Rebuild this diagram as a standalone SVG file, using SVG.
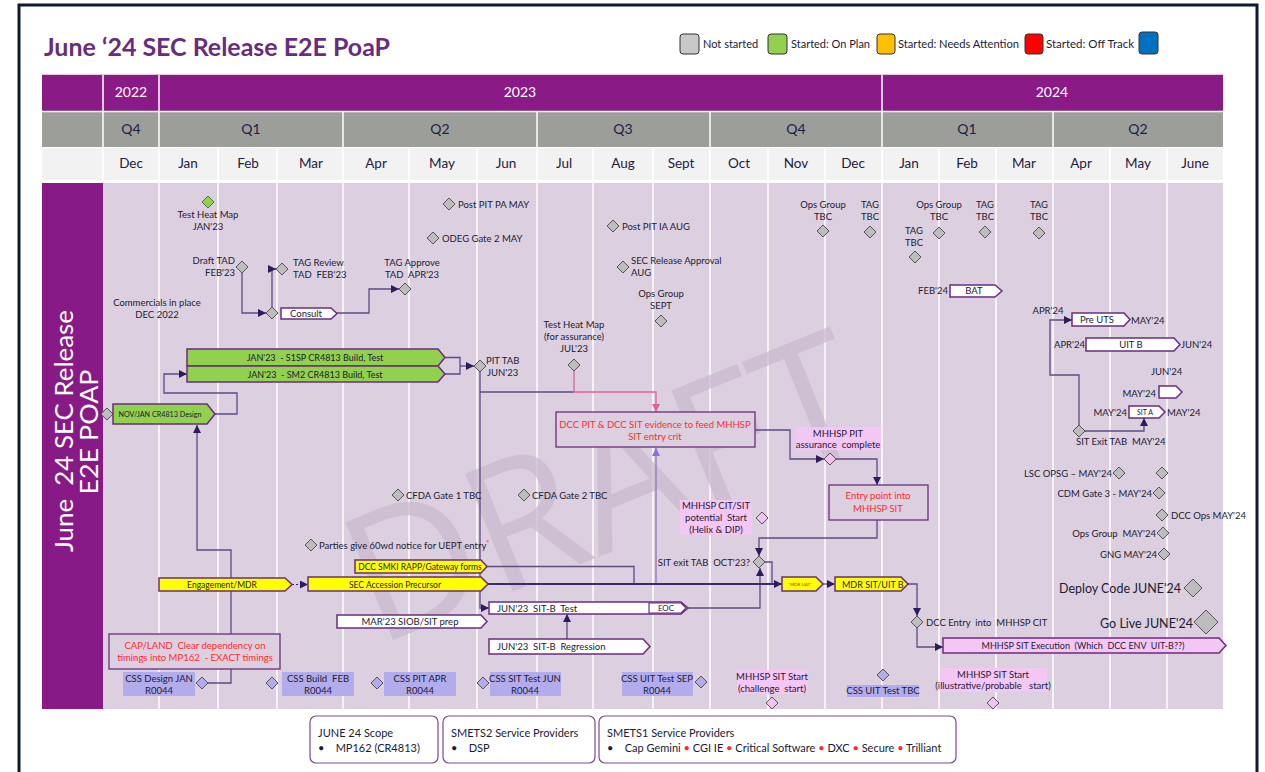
<svg xmlns="http://www.w3.org/2000/svg" width="1265" height="772" viewBox="0 0 1265 772">
<defs>
<style>
.t{font-family:Lato,'Liberation Sans',sans-serif;font-size:9.5px;fill:#1b1b33;white-space:pre}
.c{text-anchor:middle}
.e{text-anchor:end}
.hdr{font-family:Lato,'Liberation Sans',sans-serif;font-size:14px;text-anchor:middle}
.yr{fill:#ffffff}
.qt{fill:#1c1c4a}
.mo{fill:#1f2040;font-size:13.5px}
.leg{font-family:Lato,'Liberation Sans',sans-serif;font-size:11px;fill:#1b1b33;white-space:pre}
.red{fill:#ff2b2b}
.dg{fill:#bdbdbd;stroke:#555;stroke-width:1}
.dgreen{fill:#92d050;stroke:#4a7a2a;stroke-width:1}
.dpink{fill:#f2c4f2;stroke:#555;stroke-width:1}
.dlav{fill:#b3acec;stroke:#555;stroke-width:1}
.bar{stroke:#6b2c7e;stroke-width:1.5}
.green{fill:#92d050}
.yel{fill:#ffff00}
.wht{fill:#ffffff}
.pinkf{fill:#f4c6f4}
.css{fill:#b3acec}
.note{fill:#dccfe0;stroke:#6b2c7e;stroke-width:1.3}
.conn{fill:none;stroke:#5d4b85;stroke-width:1.3}
.vl{stroke:#ffffff;stroke-width:1.5}
.lgbox{fill:#ffffff;stroke:#7a4a8e;stroke-width:1.2}
</style>
<marker id="ah" viewBox="0 0 10 10" refX="10" refY="5" markerWidth="8" markerHeight="8" markerUnits="userSpaceOnUse" orient="auto"><path d="M0,0 L10,5 L0,10 z" fill="#2b1d5c"/></marker>
<marker id="ahp" viewBox="0 0 10 10" refX="10" refY="5" markerWidth="8" markerHeight="8" markerUnits="userSpaceOnUse" orient="auto"><path d="M0,0 L10,5 L0,10 z" fill="#e0609a"/></marker>
<marker id="ahl" viewBox="0 0 10 10" refX="10" refY="5" markerWidth="8" markerHeight="8" markerUnits="userSpaceOnUse" orient="auto"><path d="M0,0 L10,5 L0,10 z" fill="#8b70d8"/></marker>
<polygon id="d6" points="0,-6 6,0 0,6 -6,0"/>
<polygon id="d9" points="0,-9 9,0 0,9 -9,0"/>
<polygon id="d12" points="0,-12 12,0 0,12 -12,0"/>
</defs>

<rect x="0" y="0" width="1265" height="772" fill="#ffffff"/>
<rect x="19" y="5" width="1238" height="800" fill="none" stroke="#0f1a2c" stroke-width="3"/>

<g id="title">
<text x="44" y="56" font-family="Lato,'Liberation Sans',sans-serif" font-weight="bold" font-size="25" fill="#662d7e" textLength="346" lengthAdjust="spacingAndGlyphs">June ‘24 SEC Release E2E PoaP</text>
</g>

<g id="legend">
<rect x="680" y="34" width="19" height="20" rx="3" fill="#c8c8c8" stroke="#333"/>
<text class="leg" x="703" y="48">Not started</text>
<rect x="768" y="34" width="19" height="20" rx="3" fill="#92d050" stroke="#333"/>
<text class="leg" x="791" y="48">Started: On Plan</text>
<rect x="877" y="34" width="18" height="20" rx="3" fill="#ffc000" stroke="#333"/>
<text class="leg" x="898" y="48" textLength="121" lengthAdjust="spacingAndGlyphs">Started: Needs Attention</text>
<rect x="1025" y="34" width="18" height="20" rx="3" fill="#ff0000" stroke="#333"/>
<text class="leg" x="1046" y="48" textLength="88" lengthAdjust="spacingAndGlyphs">Started: Off Track</text>
<rect x="1139" y="32" width="19" height="22" rx="3" fill="#0070c0" stroke="#333"/>
</g>

<g id="timeline-header">
<rect x="42" y="74" width="1181" height="1.5" fill="#e4c8e4"/>
<rect x="42" y="75" width="1181" height="36" fill="#8a1a86"/>
<rect x="42" y="112" width="1181" height="35" fill="#9c9f99"/>
<rect x="42" y="148" width="1181" height="32" fill="#f2f2f2"/>
<g class="vl">
<line x1="103" y1="75" x2="103" y2="180"/><line x1="159" y1="75" x2="159" y2="180"/><line x1="882" y1="75" x2="882" y2="180"/>
<line x1="343" y1="112" x2="343" y2="180"/><line x1="537" y1="112" x2="537" y2="180"/><line x1="710" y1="112" x2="710" y2="180"/><line x1="1053" y1="112" x2="1053" y2="180"/>
<line x1="218" y1="148" x2="218" y2="180"/><line x1="277" y1="148" x2="277" y2="180"/><line x1="409" y1="148" x2="409" y2="180"/><line x1="477" y1="148" x2="477" y2="180"/><line x1="593" y1="148" x2="593" y2="180"/><line x1="653" y1="148" x2="653" y2="180"/><line x1="768" y1="148" x2="768" y2="180"/><line x1="825" y1="148" x2="825" y2="180"/><line x1="939" y1="148" x2="939" y2="180"/><line x1="996" y1="148" x2="996" y2="180"/><line x1="1110" y1="148" x2="1110" y2="180"/><line x1="1167" y1="148" x2="1167" y2="180"/>
<line x1="42" y1="111.5" x2="1223" y2="111.5"/>
</g>
<text class="hdr yr" x="131" y="97">2022</text>
<text class="hdr yr" x="520" y="97">2023</text>
<text class="hdr yr" x="1052" y="97">2024</text>
<text class="hdr qt" x="131" y="134">Q4</text>
<text class="hdr qt" x="251" y="134">Q1</text>
<text class="hdr qt" x="440" y="134">Q2</text>
<text class="hdr qt" x="623" y="134">Q3</text>
<text class="hdr qt" x="796" y="134">Q4</text>
<text class="hdr qt" x="967" y="134">Q1</text>
<text class="hdr qt" x="1138" y="134">Q2</text>
<text class="hdr mo" x="131" y="168">Dec</text>
<text class="hdr mo" x="188" y="168">Jan</text>
<text class="hdr mo" x="248" y="168">Feb</text>
<text class="hdr mo" x="311" y="168">Mar</text>
<text class="hdr mo" x="376" y="168">Apr</text>
<text class="hdr mo" x="442" y="168">May</text>
<text class="hdr mo" x="506" y="168">Jun</text>
<text class="hdr mo" x="564" y="168">Jul</text>
<text class="hdr mo" x="623" y="168">Aug</text>
<text class="hdr mo" x="681" y="168">Sept</text>
<text class="hdr mo" x="739" y="168">Oct</text>
<text class="hdr mo" x="796" y="168">Nov</text>
<text class="hdr mo" x="853" y="168">Dec</text>
<text class="hdr mo" x="909" y="168">Jan</text>
<text class="hdr mo" x="967" y="168">Feb</text>
<text class="hdr mo" x="1024" y="168">Mar</text>
<text class="hdr mo" x="1081" y="168">Apr</text>
<text class="hdr mo" x="1138" y="168">May</text>
<text class="hdr mo" x="1195" y="168">June</text>
</g>

<g id="body">
<rect x="42" y="183" width="1181" height="526" fill="#dccfe0"/>
<g class="vl">
<line x1="159" y1="183" x2="159" y2="709"/><line x1="218" y1="183" x2="218" y2="709"/><line x1="277" y1="183" x2="277" y2="709"/><line x1="343" y1="183" x2="343" y2="709"/><line x1="409" y1="183" x2="409" y2="709"/><line x1="477" y1="183" x2="477" y2="709"/><line x1="537" y1="183" x2="537" y2="709"/><line x1="593" y1="183" x2="593" y2="709"/><line x1="653" y1="183" x2="653" y2="709"/><line x1="710" y1="183" x2="710" y2="709"/><line x1="768" y1="183" x2="768" y2="709"/><line x1="825" y1="183" x2="825" y2="709"/><line x1="882" y1="183" x2="882" y2="709"/><line x1="939" y1="183" x2="939" y2="709"/><line x1="996" y1="183" x2="996" y2="709"/><line x1="1053" y1="183" x2="1053" y2="709"/><line x1="1110" y1="183" x2="1110" y2="709"/><line x1="1167" y1="183" x2="1167" y2="709"/>
</g>
<text x="0" y="0" transform="translate(628,545) rotate(-22)" text-anchor="middle" font-family="'Open Sans','Liberation Sans',sans-serif" font-size="178" fill="#c9b9ce" fill-opacity="0.75">DRAFT</text>
<rect x="42" y="183" width="61" height="526" fill="#871a86"/>
<text transform="translate(73,431) rotate(-90)" text-anchor="middle" font-family="Lato,'Liberation Sans',sans-serif" font-size="25" fill="#ffffff" textLength="242" lengthAdjust="spacingAndGlyphs" style="white-space:pre">June  24 SEC Release</text>
<text transform="translate(98,432) rotate(-90)" text-anchor="middle" font-family="Lato,'Liberation Sans',sans-serif" font-size="25" fill="#ffffff" textLength="125" lengthAdjust="spacingAndGlyphs">E2E POAP</text>
</g>

<g id="connectors">
<path class="conn" d="M242,273 V313 H266" marker-end="url(#ah)"/>
<path class="conn" d="M272,307 V269 H276" marker-end="url(#ah)"/>
<path class="conn" d="M337,313 H369 V289 H399" marker-end="url(#ah)"/>
<path class="conn" d="M445,357.5 H460 V374 H445"/>
<path class="conn" d="M460,366 H474" marker-end="url(#ah)"/>
<path class="conn" d="M215,414 H237 V393 H164 V374 H187" marker-end="url(#ah)"/>
<path class="conn" d="M208,683 H231 V550 H197 V425" marker-end="url(#ah)"/>
<path class="conn" d="M480,372 V608 H489" marker-end="url(#ah)"/>
<path class="conn" d="M480,392 H574"/>
<path fill="none" stroke="#e0609a" stroke-width="1.3" d="M574,371 V392 H656 V412" marker-end="url(#ahp)"/>
<path class="conn" d="M755,430 H790 V459 H824" marker-end="url(#ah)"/>
<path class="conn" d="M836,459 H877 V485" marker-end="url(#ah)"/>
<path class="conn" d="M877,520 V538 H759 V556" marker-end="url(#ah)"/>
<path class="conn" d="M688,608 H760 V568" marker-end="url(#ah)"/>
<path class="conn" d="M765,562 H772 V583"/>
<path class="conn" d="M487,566.5 H634 V583"/>
<path fill="none" stroke="#3b2a6e" stroke-width="2" d="M488,584 H782" marker-end="url(#ah)"/>
<path fill="none" stroke="#8b78b8" stroke-width="1.3" d="M656,583 V448" marker-end="url(#ahl)"/>
<path fill="none" stroke="#2b1d5c" stroke-width="1.2" stroke-dasharray="2,2" d="M292,584.5 H308" marker-end="url(#ah)"/>
<path class="conn" d="M823,584 H835" marker-end="url(#ah)"/>
<path class="conn" d="M908,584 H917 V616" marker-end="url(#ah)"/>
<path class="conn" d="M917,628 V647 H943" marker-end="url(#ah)"/>
<path class="conn" d="M567,639 V614" marker-end="url(#ah)"/>
<path class="conn" d="M1079,425 V375 H1050 V320 H1072" marker-end="url(#ah)"/>
<path class="conn" d="M1085,431 H1144 V418" marker-end="url(#ah)"/>
</g>

<g id="test-heat-map-jan">
<use href="#d6" x="208" y="202" class="dgreen"/>
<text class="t c" x="208" y="218">Test Heat Map</text>
<text class="t c" x="208" y="230">JAN'23</text>
</g>
<g id="draft-tad">
<use href="#d6" x="242" y="267" class="dg"/>
<text class="t e" x="235" y="264">Draft TAD</text>
<text class="t e" x="235" y="276">FEB'23</text>
</g>
<g id="tag-review">
<use href="#d6" x="282" y="269" class="dg"/>
<text class="t" x="293" y="266">TAG Review</text>
<text class="t" x="293" y="278">TAD  FEB'23</text>
</g>
<g id="consult-diamond"><use href="#d6" x="272" y="313" class="dg"/></g>
<g id="consult">
<polygon class="bar wht" points="281,308 331,308 337,313.5 331,319 281,319"/>
<text class="t c" x="306" y="317">Consult</text>
</g>
<g id="tag-approve">
<use href="#d6" x="405" y="289" class="dg"/>
<text class="t c" x="412" y="266">TAG Approve</text>
<text class="t c" x="412" y="278">TAD  APR'23</text>
</g>
<g id="commercials">
<text class="t c" x="157" y="306">Commercials in place</text>
<text class="t c" x="157" y="318">DEC 2022</text>
</g>
<g id="post-pit-pa"><use href="#d6" x="449" y="204" class="dg"/><text class="t" x="458" y="208">Post PIT PA MAY</text></g>
<g id="odeg-gate2"><use href="#d6" x="433" y="238" class="dg"/><text class="t" x="442" y="242">ODEG Gate 2 MAY</text></g>
<g id="post-pit-ia"><use href="#d6" x="613" y="226" class="dg"/><text class="t" x="622" y="230">Post PIT IA AUG</text></g>
<g id="sec-release-approval"><use href="#d6" x="623" y="267" class="dg"/><text class="t" x="631" y="264">SEC Release Approval</text><text class="t" x="631" y="276">AUG</text></g>
<g id="ops-group-sept"><use href="#d6" x="661" y="321" class="dg"/><text class="t c" x="661" y="297">Ops Group</text><text class="t c" x="661" y="309">SEPT</text></g>
<g id="test-heat-map-jul"><use href="#d6" x="574" y="365" class="dg"/><text class="t c" x="574" y="328">Test Heat Map</text><text class="t c" x="574" y="340">(for assurance)</text><text class="t c" x="574" y="352">JUL'23</text></g>
<g id="ops-group-tbc1"><use href="#d6" x="823" y="231" class="dg"/><text class="t c" x="823" y="208">Ops Group</text><text class="t c" x="823" y="220">TBC</text></g>
<g id="tag-tbc1"><use href="#d6" x="870" y="232" class="dg"/><text class="t c" x="870" y="208">TAG</text><text class="t c" x="870" y="220">TBC</text></g>
<g id="tag-tbc2"><use href="#d6" x="915" y="257" class="dg"/><text class="t c" x="914" y="234">TAG</text><text class="t c" x="914" y="246">TBC</text></g>
<g id="ops-group-tbc2"><use href="#d6" x="939" y="233" class="dg"/><text class="t c" x="939" y="208">Ops Group</text><text class="t c" x="939" y="220">TBC</text></g>
<g id="tag-tbc3"><use href="#d6" x="985" y="232" class="dg"/><text class="t c" x="985" y="208">TAG</text><text class="t c" x="985" y="220">TBC</text></g>
<g id="tag-tbc4"><use href="#d6" x="1039" y="233" class="dg"/><text class="t c" x="1039" y="208">TAG</text><text class="t c" x="1039" y="220">TBC</text></g>

<g id="bat"><text class="t e" x="948" y="294">FEB'24</text><polygon class="bar wht" points="950,285 995,285 1002,291 995,297 950,297"/><text class="t c" x="974" y="294">BAT</text></g>
<g id="pre-uts"><text class="t c" x="1048" y="314">APR'24</text><polygon class="bar wht" points="1072,313 1124,313 1130,319.5 1124,326 1072,326"/><text class="t c" x="1097" y="323">Pre UTS</text><text class="t" x="1131" y="324">MAY'24</text></g>
<g id="uit-b"><text class="t e" x="1085" y="348">APR'24</text><polygon class="bar wht" points="1086,338 1174,338 1180,344.5 1174,351 1086,351"/><text class="t c" x="1131" y="348">UIT B</text><text class="t" x="1181" y="348">JUN'24</text></g>
<g id="jun24-label"><text class="t" x="1151" y="375">JUN'24</text></g>
<g id="may24-box"><text class="t e" x="1156" y="397">MAY'24</text><polygon class="bar wht" points="1159,386 1176,386 1182,392 1176,398 1159,398"/></g>
<g id="sit-a"><text class="t e" x="1127" y="416">MAY'24</text><polygon class="bar wht" points="1129,406 1159,406 1165,412 1159,418 1129,418"/><text class="t c" x="1145" y="415" style="font-size:7px">SIT A</text><text class="t" x="1167" y="416">MAY'24</text></g>
<g id="sit-exit-tab-may"><use href="#d6" x="1079" y="431" class="dg"/><text class="t" x="1076" y="445">SIT Exit TAB  MAY'24</text></g>
<g id="lsc-opsg"><use href="#d6" x="1119" y="473" class="dg"/><text class="t e" x="1112" y="477">LSC OPSG – MAY'24</text></g>
<g id="may-diamond"><use href="#d6" x="1162" y="473" class="dg"/></g>
<g id="cdm-gate3"><use href="#d6" x="1159" y="493" class="dg"/><text class="t e" x="1152" y="497">CDM Gate 3 - MAY'24</text></g>
<g id="dcc-ops"><use href="#d6" x="1162" y="515" class="dg"/><text class="t" x="1171" y="519">DCC Ops MAY'24</text></g>
<g id="ops-group-may"><use href="#d6" x="1163" y="533" class="dg"/><text class="t e" x="1156" y="537">Ops Group  MAY'24</text></g>
<g id="gng"><use href="#d6" x="1164" y="554" class="dg"/><text class="t e" x="1157" y="558">GNG MAY'24</text></g>
<g id="deploy-code"><use href="#d9" x="1193" y="588" class="dg"/><text class="t e" x="1181" y="593" style="font-size:13.5px" textLength="122" lengthAdjust="spacingAndGlyphs">Deploy Code JUNE'24</text></g>
<g id="go-live"><use href="#d12" x="1206" y="622" class="dg"/><text class="t e" x="1193" y="628" style="font-size:14px" textLength="93" lengthAdjust="spacingAndGlyphs">Go Live JUNE'24</text></g>

<g id="s1sp"><polygon class="bar green" points="187,349 438,349 445,357.5 438,366 187,366"/><text class="t c" x="315" y="361" style="font-size:9px">JAN'23  - S1SP CR4813 Build, Test</text></g>
<g id="sm2"><polygon class="bar green" points="187,366 438,366 445,374 438,382 187,382"/><text class="t c" x="315" y="378" style="font-size:9px">JAN'23  - SM2 CR4813 Build, Test</text></g>
<g id="pit-tab"><use href="#d6" x="480" y="366" class="dg"/><text class="t" x="486" y="364">PIT TAB</text><text class="t" x="487" y="376">JUN'23</text></g>
<g id="design"><use href="#d6" x="107" y="414" class="dg"/><polygon class="bar green" points="113,404 207,404 215,414 207,424 113,424"/><text class="t c" x="160" y="417" style="font-size:7.2px">NOV/JAN CR4813 Design</text></g>

<g id="dcc-pit-evidence"><rect class="note" x="556" y="412" width="199" height="35"/><text class="t c red" x="655" y="428">DCC PIT &amp; DCC SIT evidence to feed MHHSP</text><text class="t c red" x="655" y="440">SIT entry crit</text></g>
<g id="mhhsp-pit"><rect class="pinkf" x="796" y="427" width="85" height="23"/><text class="t c" x="838" y="437">MHHSP PIT</text><text class="t c" x="838" y="448">assurance  complete</text><use href="#d6" x="830" y="459" class="dpink"/></g>
<g id="entry-point"><rect class="note" x="829" y="485" width="99" height="35"/><text class="t c red" x="878" y="499">Entry point into</text><text class="t c red" x="878" y="512">MHHSP SIT</text></g>
<g id="mhhsp-cit-sit"><rect class="pinkf" x="680" y="500" width="72" height="35"/><text class="t c" x="716" y="509">MHHSP CIT/SIT</text><text class="t c" x="716" y="521">potential  Start</text><text class="t c" x="716" y="533">(Helix &amp; DIP)</text><use href="#d6" x="762" y="518" class="dpink"/></g>
<g id="cfda1"><use href="#d6" x="398" y="495" class="dg"/><text class="t" x="406" y="499">CFDA Gate 1 TBC</text></g>
<g id="cfda2"><use href="#d6" x="524" y="495" class="dg"/><text class="t" x="532" y="499">CFDA Gate 2 TBC</text></g>
<g id="parties"><use href="#d6" x="311" y="545" class="dg"/><text class="t" x="319" y="549">Parties give 60wd notice for UEPT entry<tspan class="red" font-size="7" dy="-3">*</tspan></text></g>

<g id="dcc-smki"><polygon class="bar yel" points="355,560 481,560 487,566.5 481,573 355,573"/><text class="t c" x="420" y="570" style="font-size:8.5px">DCC SMKI RAPP/Gateway forms</text></g>
<g id="engagement"><polygon class="bar yel" points="159,578 285,578 292,584.5 285,591 159,591"/><text class="t c" x="222" y="588" style="font-size:8.5px">Engagement/MDR</text></g>
<g id="sec-accession"><polygon class="bar yel" points="308,577 481,577 488,584 481,591 308,591"/><text class="t c" x="395" y="588" style="font-size:8.5px">SEC Accession Precursor</text></g>
<g id="siob"><polygon class="bar wht" points="337,615 481,615 487,621.5 481,628 337,628"/><text class="t c" x="410" y="625">MAR'23 SIOB/SIT prep</text></g>
<g id="sit-b-test"><polygon class="bar wht" points="489,602 681,602 688,608 681,614 489,614"/><polygon fill="#ffffff" stroke="#6b2c7e" stroke-width="1.2" points="649,603 681,603 686,608 681,613 649,613"/><text class="t" x="497" y="612">JUN'23  SIT-B  Test</text><text class="t c" x="666" y="611" style="font-size:8px">EOC</text></g>
<g id="sit-b-regression"><polygon class="bar wht" points="489,639 643,639 650,646.5 643,654 489,654"/><text class="t" x="497" y="650">JUN'23  SIT-B  Regression</text></g>
<g id="sit-exit-tab-oct"><use href="#d6" x="759" y="562" class="dg"/><text class="t e" x="750" y="566">SIT exit TAB  OCT'23?</text></g>
<g id="mdr-uat"><polygon class="bar yel" points="782,577 816,577 823,584 816,591 782,591"/><text class="c" x="800" y="586" font-family="Lato,'Liberation Sans',sans-serif" font-size="4.5" fill="#c03030">*MDR UAT*</text></g>
<g id="mdr-sit-uitb"><polygon class="bar yel" points="835,577 901,577 908,584 901,591 835,591"/><text class="t" x="842" y="588" style="font-size:9px">MDR SIT/UIT B</text></g>
<g id="dcc-entry"><use href="#d6" x="917" y="622" class="dg"/><text class="t" x="926" y="626">DCC Entry  into  MHHSP CIT</text></g>
<g id="mhhsp-sit-exec"><polygon class="bar pinkf" points="943,638 1219,638 1226,645.5 1219,653 943,653"/><text class="t c" x="1083" y="649" style="font-size:9px">MHHSP SIT Execution  (Which  DCC ENV  UIT-B??)</text></g>

<g id="cap-land"><rect class="note" x="109" y="634" width="171" height="35"/><text class="t c red" x="195" y="649">CAP/LAND  Clear dependency on</text><text class="t c red" x="195" y="661">timings into MP162  - EXACT timings</text></g>
<g id="css-design"><rect class="css" x="123" y="672" width="72" height="24"/><text class="t c" x="159" y="682">CSS Design JAN</text><text class="t c" x="159" y="694">R0044</text><use href="#d6" x="202" y="683" class="dlav"/></g>
<g id="css-build"><use href="#d6" x="272" y="683" class="dlav"/><rect class="css" x="282" y="672" width="72" height="24"/><text class="t c" x="318" y="682">CSS Build  FEB</text><text class="t c" x="318" y="694">R0044</text></g>
<g id="css-pit"><use href="#d6" x="377" y="683" class="dlav"/><rect class="css" x="384" y="672" width="72" height="24"/><text class="t c" x="420" y="682">CSS PIT APR</text><text class="t c" x="420" y="694">R0044</text></g>
<g id="css-sit"><use href="#d6" x="483" y="683" class="dlav"/><rect class="css" x="490" y="672" width="71" height="24"/><text class="t c" x="525" y="682">CSS SIT Test JUN</text><text class="t c" x="525" y="694">R0044</text></g>
<g id="css-uit-sep"><rect class="css" x="622" y="672" width="71" height="24"/><text class="t c" x="657" y="682">CSS UIT Test SEP</text><text class="t c" x="657" y="694">R0044</text><use href="#d6" x="701" y="682" class="dlav"/></g>
<g id="mhhsp-sit-start-challenge"><rect class="pinkf" x="737" y="670" width="71" height="24"/><text class="t c" x="772" y="680">MHHSP SIT Start</text><text class="t c" x="772" y="692">(challenge  start)</text><use href="#d6" x="772" y="703" class="dpink"/></g>
<g id="css-uit-tbc"><use href="#d6" x="883" y="675" class="dlav"/><rect class="css" x="847" y="685" width="72" height="12"/><text class="t c" x="883" y="694">CSS UIT Test TBC</text></g>
<g id="mhhsp-sit-start-illustrative"><rect class="pinkf" x="940" y="668" width="107" height="24"/><text class="t c" x="993" y="678">MHHSP SIT Start</text><text class="t c" x="993" y="689">(illustrative/probable   start)</text><use href="#d6" x="993" y="703" class="dpink"/></g>

<g id="scope-box">
<rect class="lgbox" x="310" y="716" width="128" height="47" rx="6"/>
<text class="leg" x="318" y="737">JUNE 24 Scope</text>
<text class="leg" x="318" y="752">•    MP162 (CR4813)</text>
</g>
<g id="smets2-box">
<rect class="lgbox" x="443" y="716" width="152" height="47" rx="6"/>
<text class="leg" x="451" y="737">SMETS2 Service Providers</text>
<text class="leg" x="451" y="752">•    DSP</text>
</g>
<g id="smets1-box">
<rect class="lgbox" x="599" y="716" width="357" height="47" rx="6"/>
<text class="leg" x="607" y="737">SMETS1 Service Providers</text>
<text class="leg" x="607" y="752">•    Cap Gemini <tspan class="red">•</tspan> CGI IE <tspan class="red">•</tspan> Critical Software <tspan class="red">•</tspan> DXC <tspan class="red">•</tspan> Secure <tspan class="red">•</tspan> Trilliant</text>
</g>
</svg>
